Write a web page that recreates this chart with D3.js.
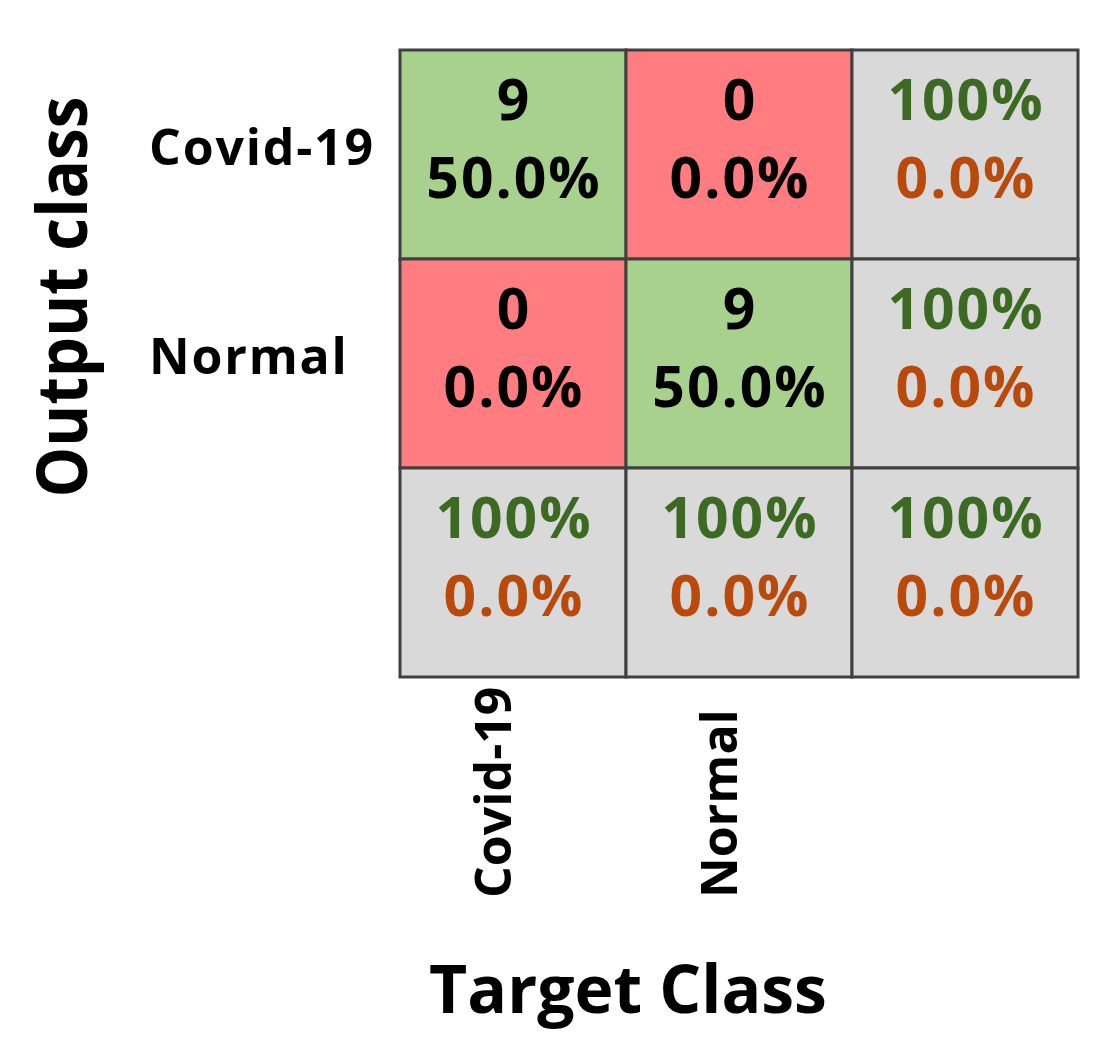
<!DOCTYPE html>
<html>
<head>
<meta charset="utf-8">
<script src="https://cdn.jsdelivr.net/npm/d3@7"></script>
<style>
  html, body { margin: 0; padding: 0; background: #fff; }
  svg { display: block; }
  text { font-family: "Open Sans", "DejaVu Sans", sans-serif; font-weight: 700; }
</style>
</head>
<body>
<svg id="chart" width="1108" height="1048"></svg>
<script>
// ---- data ----
const classes = ["Covid-19", "Normal"];
const gridKeys = ["Covid-19", "Normal", "summary"];
// counts[row = output][col = target]
const counts = [[9, 0], [0, 9]];
const cellPercents = [["50.0%", "0.0%"], ["0.0%", "50.0%"]];
const rowCorrect = ["100%", "100%"];
const rowWrong = ["0.0%", "0.0%"];
const colCorrect = ["100%", "100%"];
const colWrong = ["0.0%", "0.0%"];
const totalCorrect = "100%";
const totalWrong = "0.0%";
const yTitle = "Output class";
const xTitle = "Target Class";

// ---- style ----
const C = {
  green: "#A9D18E", red: "#FF7C80", gray: "#D9D9D9",
  goodText: "#3D6A22", badText: "#BA4A0C", line: "#404040"
};

const svg = d3.select("#chart");
const x = d3.scaleBand().domain(gridKeys).range([400, 1078]);
const y = d3.scaleBand().domain(gridKeys).range([50, 677]);

// build cells
const cells = [];
gridKeys.forEach((rk, ri) => {
  gridKeys.forEach((ck, ci) => {
    let fill, l1, l2, c1, c2;
    if (ri < 2 && ci < 2) {
      fill = ri === ci ? C.green : C.red;
      l1 = String(counts[ri][ci]); l2 = cellPercents[ri][ci];
      c1 = "#000"; c2 = "#000";
    } else if (ri < 2) {
      fill = C.gray; l1 = rowCorrect[ri]; l2 = rowWrong[ri];
      c1 = C.goodText; c2 = C.badText;
    } else if (ci < 2) {
      fill = C.gray; l1 = colCorrect[ci]; l2 = colWrong[ci];
      c1 = C.goodText; c2 = C.badText;
    } else {
      fill = C.gray; l1 = totalCorrect; l2 = totalWrong;
      c1 = C.goodText; c2 = C.badText;
    }
    cells.push({ rk, ck, fill, l1, l2, c1, c2 });
  });
});

const g = svg.append("g");
g.selectAll("rect.cell").data(cells).join("rect")
  .attr("class", "cell")
  .attr("x", d => x(d.ck)).attr("y", d => y(d.rk))
  .attr("width", x.bandwidth()).attr("height", y.bandwidth())
  .attr("fill", d => d.fill)
  .attr("stroke", C.line).attr("stroke-width", 3);

const fs = 57;
g.selectAll("text.l1").data(cells).join("text")
  .attr("class", "l1")
  .attr("x", d => x(d.ck) + x.bandwidth() / 2 + 1)
  .attr("y", d => y(d.rk) + 70)
  .attr("text-anchor", "middle")
  .attr("font-size", fs)
  .attr("letter-spacing", 2)
  .attr("fill", d => d.c1)
  .text(d => d.l1);
g.selectAll("text.l2").data(cells).join("text")
  .attr("class", "l2")
  .attr("x", d => x(d.ck) + x.bandwidth() / 2 + 1)
  .attr("y", d => y(d.rk) + 148)
  .attr("text-anchor", "middle")
  .attr("font-size", fs)
  .attr("letter-spacing", 2)
  .attr("fill", d => d.c2)
  .text(d => d.l2);

// row labels
svg.selectAll("text.rowlab").data(classes).join("text")
  .attr("class", "rowlab")
  .attr("x", 149)
  .attr("y", d => y(d) + y.bandwidth() / 2 + 10)
  .attr("font-size", 50)
  .attr("letter-spacing", 1.8)
  .attr("fill", "#000")
  .text(d => d);

// column labels (rotated)
svg.selectAll("text.collab").data(classes).join("text")
  .attr("class", "collab")
  .attr("transform", d => `translate(${x(d) + x.bandwidth() / 2 - 2},898) rotate(-90)`)
  .attr("font-size", 50)
  .attr("fill", "#000")
  .text(d => d);

// axis titles
svg.append("text")
  .attr("transform", "translate(87,297) rotate(-90)")
  .attr("text-anchor", "middle")
  .attr("font-size", 70)
  .attr("textLength", 401)
  .attr("lengthAdjust", "spacingAndGlyphs")
  .attr("fill", "#000")
  .text(yTitle);

svg.append("text")
  .attr("x", 628).attr("y", 1013)
  .attr("text-anchor", "middle")
  .attr("font-size", 66)
  .attr("fill", "#000")
  .text(xTitle);
</script>
</body>
</html>
